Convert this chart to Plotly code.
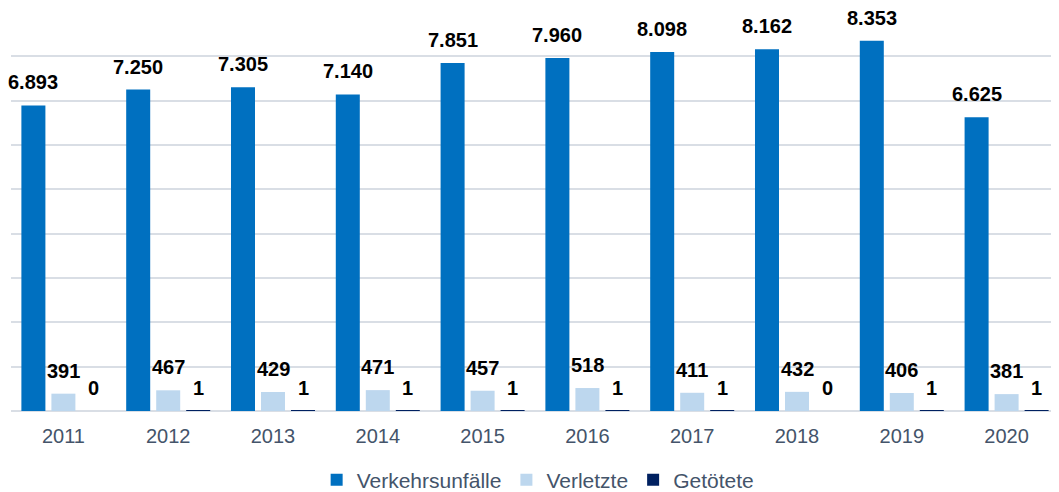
import plotly.graph_objects as go

years = ["2011", "2012", "2013", "2014", "2015", "2016", "2017", "2018", "2019", "2020"]
unfaelle = [6893, 7250, 7305, 7140, 7851, 7960, 8098, 8162, 8353, 6625]
verletzte = [391, 467, 429, 471, 457, 518, 411, 432, 406, 381]
getoetete = [0, 1, 1, 1, 1, 1, 1, 0, 1, 1]

series = [
    ("Verkehrsunfälle", unfaelle, "#0070C0"),
    ("Verletzte", verletzte, "#BDD7EE"),
    ("Getötete", getoetete, "#002060"),
]

FONT = "Liberation Sans, Arial, sans-serif"

fig = go.Figure()
for name, vals, col in series:
    fig.add_trace(go.Bar(x=years, y=vals, name=name, marker=dict(color=col, line=dict(width=0))))

shifts = [-30, 0, 30]
for (name, vals, col), dx in zip(series, shifts):
    for i, v in enumerate(vals):
        fig.add_annotation(
            x=i, y=v, xref="x", yref="y",
            text=f"{v:,}".replace(",", "."),
            showarrow=False, yanchor="bottom", xanchor="center",
            xshift=dx, yshift=10,
            font=dict(family=FONT, size=20, color="#000000", weight="bold"),
        )

# page body has an 8px default margin, so the figure is sized to fit the window
fig.update_layout(
    width=1051, height=484,
    margin=dict(l=3, r=0, t=4, b=81, autoexpand=False),
    paper_bgcolor="white", plot_bgcolor="white",
    barmode="group", bargap=0.141, bargroupgap=0.2,
    font=dict(family=FONT, size=20, color="#44546A"),
    showlegend=True,
    legend=dict(orientation="h", x=0.503, xanchor="center", y=-0.173, yanchor="middle",
                font=dict(family=FONT, size=21, color="#44546A"), itemwidth=30),
    xaxis=dict(type="category", range=[-0.5, len(years) - 0.5], showgrid=False, showline=False,
               ticks="", tickfont=dict(size=20, color="#44546A"), ticklabelstandoff=11),
    yaxis=dict(range=[0, 9000], dtick=1000, showticklabels=False, showgrid=True,
               gridcolor="#D9DEE5", gridwidth=1.5, zeroline=True, zerolinecolor="#D9DEE5",
               zerolinewidth=1.5, showline=False),
)

fig.write_html("out.html")
